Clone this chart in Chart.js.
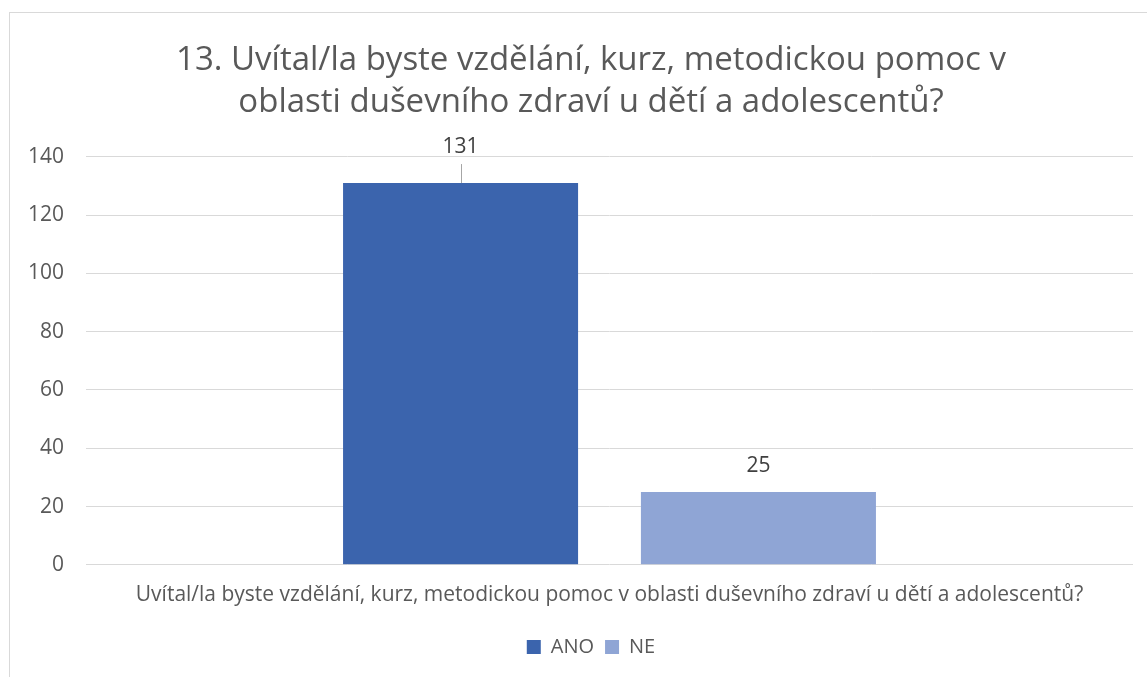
<!DOCTYPE html>
<html>
<head>
<meta charset="utf-8">
<script src="https://cdn.jsdelivr.net/npm/chart.js@4"></script>
<style>
  html, body { margin: 0; padding: 0; background: #fff; overflow: hidden; }
  #frame {
    position: absolute; left: 9px; top: 12px;
    width: 1162px; height: 700px;
    border: 1px solid #d9d9d9; background: #fff;
  }
  #box { position: relative; width: 1162px; height: 654px; }
</style>
</head>
<body>
<div id="frame"><div id="box"><canvas id="chart"></canvas></div></div>
<script>
// data
const titleLines = ['13. Uvítal/la byste vzdělání, kurz, metodickou pomoc v', 'oblasti duševního zdraví u dětí a adolescentů?'];
const categories = ['Uvítal/la byste vzdělání, kurz, metodickou pomoc v oblasti duševního zdraví u dětí a adolescentů?'];
const anoValues = [131];
const neValues = [25];
const yTicks = [0, 20, 40, 60, 80, 100, 120, 140];

const FONT = "'Open Sans', sans-serif";

// value labels over the bars (the 131 one sits higher, with a leader line)
const valueLabels = {
    id: 'valueLabels',
    afterDatasetsDraw(chart) {
        const ctx = chart.ctx;
        const lift = [36, 26];
        ctx.save();
        ctx.font = '21px ' + FONT;
        ctx.fillStyle = '#404040';
        ctx.textAlign = 'center';
        ctx.textBaseline = 'middle';
        chart.data.datasets.forEach((ds, i) => {
            chart.getDatasetMeta(i).data.forEach((bar, j) => {
                const y = bar.y - lift[i];
                ctx.fillText(String(ds.data[j]), bar.x, y);
                if (i === 0) {
                    ctx.strokeStyle = '#a6a6a6';
                    ctx.lineWidth = 1;
                    ctx.beginPath();
                    ctx.moveTo(Math.round(bar.x) + 0.5, bar.y - 19);
                    ctx.lineTo(Math.round(bar.x) + 0.5, bar.y);
                    ctx.stroke();
                }
            });
        });
        ctx.restore();
    }
};

new Chart(document.getElementById('chart'), {
    type: 'bar',
    data: {
        labels: categories,
        datasets: [
            { label: 'ANO', data: anoValues, backgroundColor: '#3b64ad' },
            { label: 'NE', data: neValues, backgroundColor: '#8fa5d5' }
        ]
    },
    options: {
        responsive: true,
        maintainAspectRatio: false,
        animation: false,
        layout: { padding: { left: 19, right: 19, top: 27, bottom: 0 } },
        datasets: { bar: { categoryPercentage: 0.569, barPercentage: 0.789 } },
        scales: {
            x: {
                grid: { display: false, drawTicks: false },
                border: { display: false },
                ticks: { color: '#595959', font: { family: FONT, size: 21 }, padding: 18 }
            },
            y: {
                min: 0,
                max: 140,
                afterBuildTicks: axis => { axis.ticks = yTicks.map(v => ({ value: v })); },
                afterFit: axis => { axis.width = 57; },
                grid: { color: '#d9d9d9', drawTicks: false },
                border: { display: false },
                ticks: { color: '#595959', font: { family: FONT, size: 21 }, padding: 22 }
            },
            // empty right-hand strip so the plot stops short of the frame
            yRight: {
                position: 'right',
                min: 0,
                max: 140,
                afterFit: axis => { axis.width = 20; },
                grid: { display: false, drawTicks: false },
                border: { display: false },
                ticks: { display: false }
            }
        },
        plugins: {
            title: {
                display: true,
                text: titleLines,
                color: '#595959',
                font: { family: FONT, size: 33, weight: 'normal', lineHeight: 1.27 },
                padding: { top: 0, bottom: 33 }
            },
            legend: {
                position: 'bottom',
                labels: {
                    color: '#595959',
                    font: { family: FONT, size: 20 },
                    boxWidth: 14,
                    boxHeight: 14,
                    padding: 11
                }
            },
            tooltip: { enabled: false }
        }
    },
    plugins: [valueLabels]
});
</script>
</body>
</html>
